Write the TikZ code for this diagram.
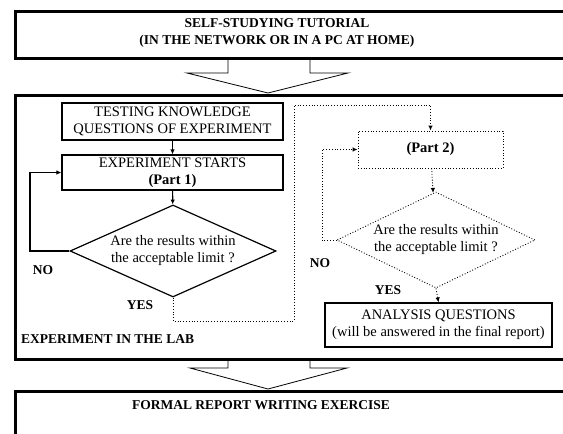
\documentclass[tikz,border=0pt]{standalone}
\usepackage{fontspec}
\setmainfont{Liberation Serif}
\usetikzlibrary{shapes.geometric,arrows.meta}
\begin{document}
\begin{tikzpicture}[x=1pt,y=-1pt,
  outerbox/.style={draw,line width=2.6pt,rectangle,anchor=north west,inner sep=0pt},
  innerbox/.style={draw,line width=1.2pt,rectangle,inner sep=0pt,align=center,font=\fontsize{14.5}{17}\selectfont},
  dotbox/.style={draw,line width=0.9pt,dash pattern=on 0.9pt off 1.9pt,rectangle,inner sep=0pt,align=center},
  decision/.style={diamond,draw,inner sep=0pt,align=center,font=\fontsize{14.5}{17}\selectfont},
  boldlabel/.style={font=\bfseries\fontsize{13.5}{17}\selectfont,inner sep=0pt},
  blockarrow/.style={draw,line width=0.8pt},
  arr/.style={-{Latex[length=5pt,width=4.5pt]}},
  dotline/.style={line width=0.9pt,dash pattern=on 0.9pt off 1.9pt},
]
\clip (0,0) rectangle (563,434);
\fill[white] (0,0) rectangle (563,434);

% outer boxes
\node[outerbox,minimum width=570pt,minimum height=47pt] (topbox) at (14,10) {};
\node[boldlabel,align=center] (toptext) at (277,32.5) {SELF-STUDYING TUTORIAL\\(IN THE NETWORK OR IN A PC AT HOME)};
\node[outerbox,minimum width=570pt,minimum height=264pt] (labbox) at (14,94) {};
\node[outerbox,minimum width=570pt,minimum height=60pt] (reportbox) at (14,390) {};
\node[boldlabel] (reporttext) at (261,405) {FORMAL REPORT WRITING EXERCISE};
\node[boldlabel,anchor=west] (labtext) at (21,339) {EXPERIMENT IN THE LAB};

% block arrows
\draw[blockarrow] (228,57) -- (228,73) -- (187,73) -- (268,93) -- (348,73) -- (310,73) -- (310,57);
\draw[blockarrow] (228,358) -- (228,368) -- (190,368) -- (268,389) -- (347,368) -- (310,368) -- (310,358);

% left column
\node[innerbox,minimum width=221pt,minimum height=37pt] (test) at (172.5,121.5) {TESTING KNOWLEDGE\\QUESTIONS OF EXPERIMENT};
\node[innerbox,minimum width=221pt,minimum height=35pt] (exp) at (172.5,172.5) {EXPERIMENT STARTS\\\textbf{(Part 1)}};
\node[decision,line width=1.2pt,minimum width=206pt,minimum height=92pt,shape aspect=2.24] (d1) at (173,251) {Are the results within\\the acceptable limit ?};
\node[boldlabel] (no1) at (43,270) {NO};
\node[boldlabel] (yes1) at (140,305) {YES};

\draw[line width=1.2pt,arr] (test) -- (exp);
\draw[line width=1.2pt,arr] (exp) -- (d1);
\coordinate (l1) at (30,251);
\draw[line width=1.2pt,arr] (d1.west) -- (l1) |- (exp.west);

% right column
\node[dotbox,minimum width=145pt,minimum height=37pt,font=\bfseries\fontsize{14.5}{17}\selectfont] (p2) at (430.5,149.5) {(Part 2)};
\node[decision,dotline,minimum width=198pt,minimum height=96pt,shape aspect=2.06] (d2) at (436,240) {Are the results within\\the acceptable limit ?};
\node[boldlabel] (no2) at (320,263) {NO};
\node[boldlabel] (yes2) at (388,290) {YES};
\node[innerbox,minimum width=227pt,minimum height=44pt] (ana) at (438.5,325) {ANALYSIS QUESTIONS\\(will be answered in the final report)};

\coordinate (c1) at (173,321);
\coordinate (c2) at (294,321);
\coordinate (c3) at (294,105);
\draw[dotline,arr] (d1.south) -- (c1) -- (c2) -- (c3) -| (p2.north);
\draw[dotline,arr] (p2) -- (d2);
\coordinate (l2) at (322,240);
\draw[dotline,arr] (d2.west) -- (l2) |- (p2.west);
\draw[dotline,arr] (d2.south) -- (ana.north);
\end{tikzpicture}
\end{document}
